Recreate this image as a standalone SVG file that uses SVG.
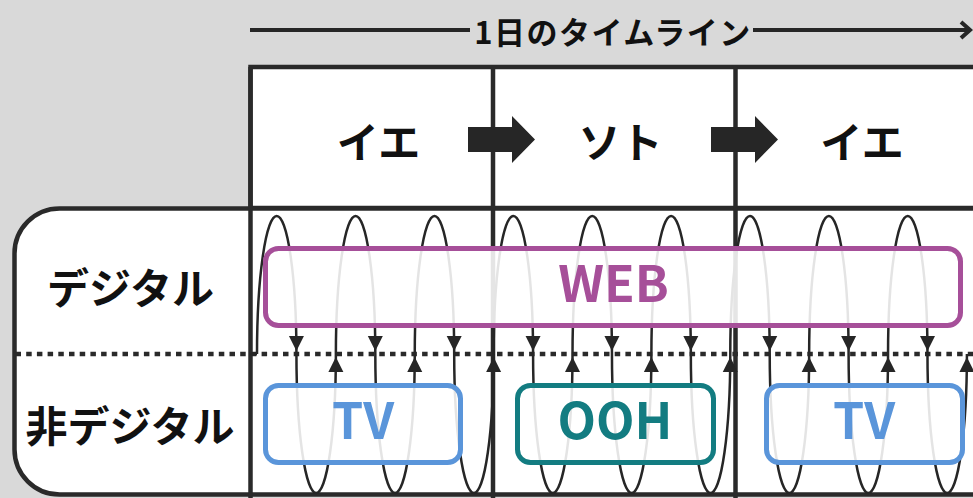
<svg xmlns="http://www.w3.org/2000/svg" width="973" height="498" viewBox="0 0 973 498">
<defs>
<marker id="ah" markerUnits="userSpaceOnUse" markerWidth="20" markerHeight="16" viewBox="0 0 20 16" refX="18" refY="8" orient="auto" overflow="visible">
<path d="M0,0.5 L15,8 L0,15.5 z" fill="#262626"/>
</marker>
<style>
.frame{fill:#fff;stroke:#2a2a2a;stroke-width:4.5}
.div{stroke:#2a2a2a;stroke-width:4.5;fill:none}
.lbl{font-family:"Noto Sans CJK JP","Noto Sans",sans-serif;font-weight:700;fill:#111;text-anchor:middle;dominant-baseline:central}
.wave{fill:none;stroke:#262626;stroke-width:2.5;marker-end:url(#ah)}
.box{fill:#fff;fill-opacity:0.88;stroke-width:5}
.btxt{font-family:"Noto Sans CJK JP","Noto Sans",sans-serif;font-weight:700;font-size:50px;text-anchor:middle}
</style>
</defs>
<rect x="0" y="0" width="973" height="498" fill="#d9d9d9"/>

<g id="title">
<text class="lbl" x="613" y="30" font-size="31" letter-spacing="1.5">1日のタイムライン</text>
</g>

<g id="header">
<rect class="frame" x="250.5" y="67" width="800" height="141"/>
<text class="lbl" x="378.5" y="139" font-size="42">イエ</text>
<text class="lbl" x="620.5" y="139" font-size="42">ソト</text>
<text class="lbl" x="862" y="139" font-size="42">イエ</text>
</g>

<g id="main">
<rect class="frame" x="14.5" y="208.5" width="1100" height="286" rx="45" ry="45"/>
<line class="div" x1="14" y1="354" x2="973" y2="354" stroke-width="4.5" stroke-dasharray="5.5 5.2" stroke-dashoffset="-1.5"/>
<line class="div" x1="250.5" y1="67" x2="250.5" y2="498"/>
<line class="div" x1="493" y1="67" x2="493" y2="498"/>
<line class="div" x1="735.5" y1="67" x2="735.5" y2="498"/>
</g>

<g id="row-digital"><text class="lbl" x="130.5" y="285" font-size="42">デジタル</text></g>
<g id="row-nondigital"><text class="lbl" x="130" y="423" font-size="42">非デジタル</text></g>

<g id="connectors">
<path d="M250,354 L257,354" fill="none" stroke="#262626" stroke-width="2.5"/>
<path class="wave" d="M257,354 A19.72,138 0 0 1 296.44,354"/>
<path class="wave" d="M296.44,354 A19.72,139 0 0 0 335.88,354"/>
<path class="wave" d="M335.88,354 A19.72,138 0 0 1 375.32,354"/>
<path class="wave" d="M375.32,354 A19.72,139 0 0 0 414.76,354"/>
<path class="wave" d="M414.76,354 A19.72,138 0 0 1 454.2,354"/>
<path class="wave" d="M454.2,354 A19.72,139 0 0 0 493.64,354"/>
<path class="wave" d="M493.64,354 A19.72,138 0 0 1 533.08,354"/>
<path class="wave" d="M533.08,354 A19.72,139 0 0 0 572.52,354"/>
<path class="wave" d="M572.52,354 A19.72,138 0 0 1 611.96,354"/>
<path class="wave" d="M611.96,354 A19.72,139 0 0 0 651.4,354"/>
<path class="wave" d="M651.4,354 A19.72,138 0 0 1 690.84,354"/>
<path class="wave" d="M690.84,354 A19.72,139 0 0 0 730.28,354"/>
<path class="wave" d="M730.28,354 A19.72,138 0 0 1 769.72,354"/>
<path class="wave" d="M769.72,354 A19.72,139 0 0 0 809.16,354"/>
<path class="wave" d="M809.16,354 A19.72,138 0 0 1 848.6,354"/>
<path class="wave" d="M848.6,354 A19.72,139 0 0 0 888.04,354"/>
<path class="wave" d="M888.04,354 A19.72,138 0 0 1 927.48,354"/>
<path class="wave" d="M927.48,354 A19.72,139 0 0 0 966.92,354"/>
<polygon points="468,127 512,127 512,116 535,139.5 512,163 512,152 468,152" fill="#262626"/>
<polygon points="711,127 755,127 755,116 778,139.5 755,163 755,152 711,152" fill="#262626"/>
<line x1="250" y1="30" x2="470" y2="30" stroke="#262626" stroke-width="4"/>
<line x1="753" y1="30" x2="969" y2="30" stroke="#262626" stroke-width="4"/>
<polyline points="961,22 970,30 961,38" fill="none" stroke="#262626" stroke-width="4"/>
</g>

<g id="web">
<rect class="box" x="265.5" y="248.5" width="695" height="77" rx="13" stroke="#a64f99"/>
<text class="btxt" x="613.5" y="302" fill="#a64f99">WEB</text>
</g>
<g id="tv1">
<rect class="box" x="265.5" y="385.5" width="195" height="77" rx="13" stroke="#5a95da"/>
<text class="btxt" x="363" y="439" fill="#5a95da">TV</text>
</g>
<g id="ooh">
<rect class="box" x="517.5" y="385.5" width="196" height="77" rx="13" stroke="#137c81"/>
<text class="btxt" x="615" y="439" fill="#137c81">OOH</text>
</g>
<g id="tv2">
<rect class="box" x="766.5" y="385.5" width="196" height="77" rx="13" stroke="#5a95da"/>
<text class="btxt" x="864" y="439" fill="#5a95da">TV</text>
</g>
</svg>
